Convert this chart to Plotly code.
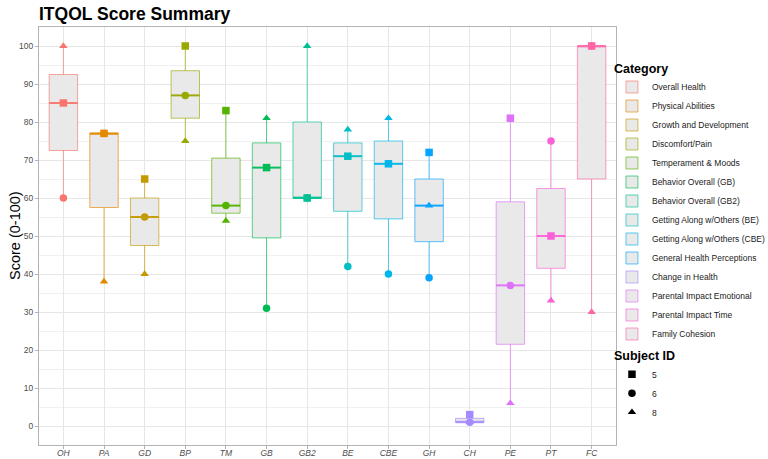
import numpy as np
import plotly.graph_objects as go

# ---- data ----
codes = ["OH", "PA", "GD", "BP", "TM", "GB", "GB2", "BE", "CBE", "GH", "CH", "PE", "PT", "FC"]
names = ["Overall Health", "Physical Abilities", "Growth and Development", "Discomfort/Pain",
         "Temperament & Moods", "Behavior Overall (GB)", "Behavior Overall (GB2)",
         "Getting Along w/Others (BE)", "Getting Along w/Others (CBE)",
         "General Health Perceptions", "Change in Health", "Parental Impact Emotional",
         "Parental Impact Time", "Family Cohesion"]
colors = ["#F8766D", "#E38900", "#C49A00", "#99A800", "#53B400", "#00BC56", "#00C094",
          "#00BFC4", "#00B6EB", "#06A4FF", "#A58AFF", "#DF70F8", "#FB61D7", "#FF66A8"]

subject_ids = ["5", "6", "8"]
subject_symbols = ["square", "circle", "triangle-up"]
score_s5 = [85, 77, 65, 100, 83, 68, 60, 71, 69, 72, 3, 81, 50, 100]
score_s6 = [60, 77, 55, 87, 58, 31, 60, 42, 40, 39, 1, 37, 75, 100]
score_s8 = [100, 38, 40, 75, 54, 81, 100, 78, 81, 58, 1, 6, 33, 30]
scores = {"5": score_s5, "6": score_s6, "8": score_s8}

y_ticks = list(range(0, 101, 10))

BOX_W = 0.7


def rgba(hexc, a):
    h = hexc.lstrip("#")
    r, g, b = int(h[0:2], 16), int(h[2:4], 16), int(h[4:6], 16)
    return f"rgba({r},{g},{b},{a})"


fig = go.Figure()
pos = list(range(len(codes)))

# boxes, one per category
for i, code in enumerate(codes):
    vals = [score_s5[i], score_s6[i], score_s8[i]]
    fig.add_trace(go.Box(
        x=[pos[i]] * 3, y=vals, name=names[i],
        boxpoints=False, quartilemethod="inclusive",
        width=BOX_W, whiskerwidth=0,
        fillcolor="#E9E9E9",
        line=dict(color=rgba(colors[i], 0.65), width=1),
        legend="legend", hoverinfo="skip",
    ))

# thicker median lines (median computed from the data)
for i, code in enumerate(codes):
    med = float(np.median([score_s5[i], score_s6[i], score_s8[i]]))
    fig.add_trace(go.Scatter(
        x=[pos[i] - BOX_W / 2, pos[i] + BOX_W / 2], y=[med, med], mode="lines",
        line=dict(color=rgba(colors[i], 0.9), width=2),
        showlegend=False, hoverinfo="skip",
    ))

# points per subject (draw order: 8, 6, 5 so squares on top)
for sid, sym in [("8", "triangle-up"), ("6", "circle"), ("5", "square")]:
    fig.add_trace(go.Scatter(
        x=pos, y=scores[sid], mode="markers",
        marker=dict(symbol=sym, size=7.5, color=colors, line=dict(width=0)),
        showlegend=False, hoverinfo="skip",
    ))

# legend entries for subject shapes
for sid, sym in zip(subject_ids, subject_symbols):
    fig.add_trace(go.Scatter(
        x=[None], y=[None], mode="markers", name=sid,
        marker=dict(symbol=sym, size=7.5, color="black"),
        legend="legend2",
    ))

fig.update_layout(
    width=768, height=459,
    margin=dict(l=39, r=152, t=27, b=14, autoexpand=False),
    paper_bgcolor="white", plot_bgcolor="white",
    boxmode="overlay",
    font=dict(family="Arial, Liberation Sans, sans-serif", color="#1A1A1A"),
    title=dict(text="<b>ITQOL Score Summary</b>", xref="container", x=39 / 768, xanchor="left",
               yref="container", y=1 - 14 / 459, yanchor="middle",
               font=dict(size=17.5, color="black")),
    legend=dict(title=dict(text="<b>Category</b>", font=dict(size=12.5, color="black")),
                x=0.993, xanchor="left", y=0.93, yanchor="top",
                font=dict(size=8.5, color="#1A1A1A"), itemwidth=30,
                bgcolor="rgba(0,0,0,0)"),
    legend2=dict(title=dict(text="<b>Subject ID</b>", font=dict(size=12.5, color="black")),
                 x=0.993, xanchor="left", y=0.243, yanchor="top",
                 font=dict(size=8.5, color="#1A1A1A"), itemwidth=30,
                 bgcolor="rgba(0,0,0,0)"),
    annotations=[dict(text="Score (0-100)", textangle=-90, xref="paper", yref="paper",
                      x=-(39 - 15) / 577, y=0.5, xanchor="center", yanchor="middle",
                      showarrow=False, font=dict(size=14.5, color="black"))],
)

fig.update_xaxes(
    tickmode="array", tickvals=pos, ticktext=codes,
    range=[-0.6, len(codes) - 0.4],
    showgrid=True, gridcolor="#E6E6E6", gridwidth=1,
    ticks="outside", ticklen=3, tickcolor="#B3B3B3",
    tickfont=dict(size=8.5, color="#4D4D4D", style="italic"),
    ticklabelstandoff=-3,
    showline=True, mirror=True, linecolor="#B3B3B3", linewidth=1,
    zeroline=False, automargin=False,
)
fig.update_yaxes(
    range=[-5, 105], tickvals=y_ticks,
    showgrid=True, gridcolor="#E6E6E6", gridwidth=1,
    minor=dict(dtick=5, tick0=0, showgrid=True, gridcolor="#F0F0F0", gridwidth=1),
    ticks="outside", ticklen=3, tickcolor="#B3B3B3",
    tickfont=dict(size=8.5, color="#4D4D4D"),
    showline=True, mirror=True, linecolor="#B3B3B3", linewidth=1,
    zeroline=False, automargin=False,
)

fig.write_html("out.html")
